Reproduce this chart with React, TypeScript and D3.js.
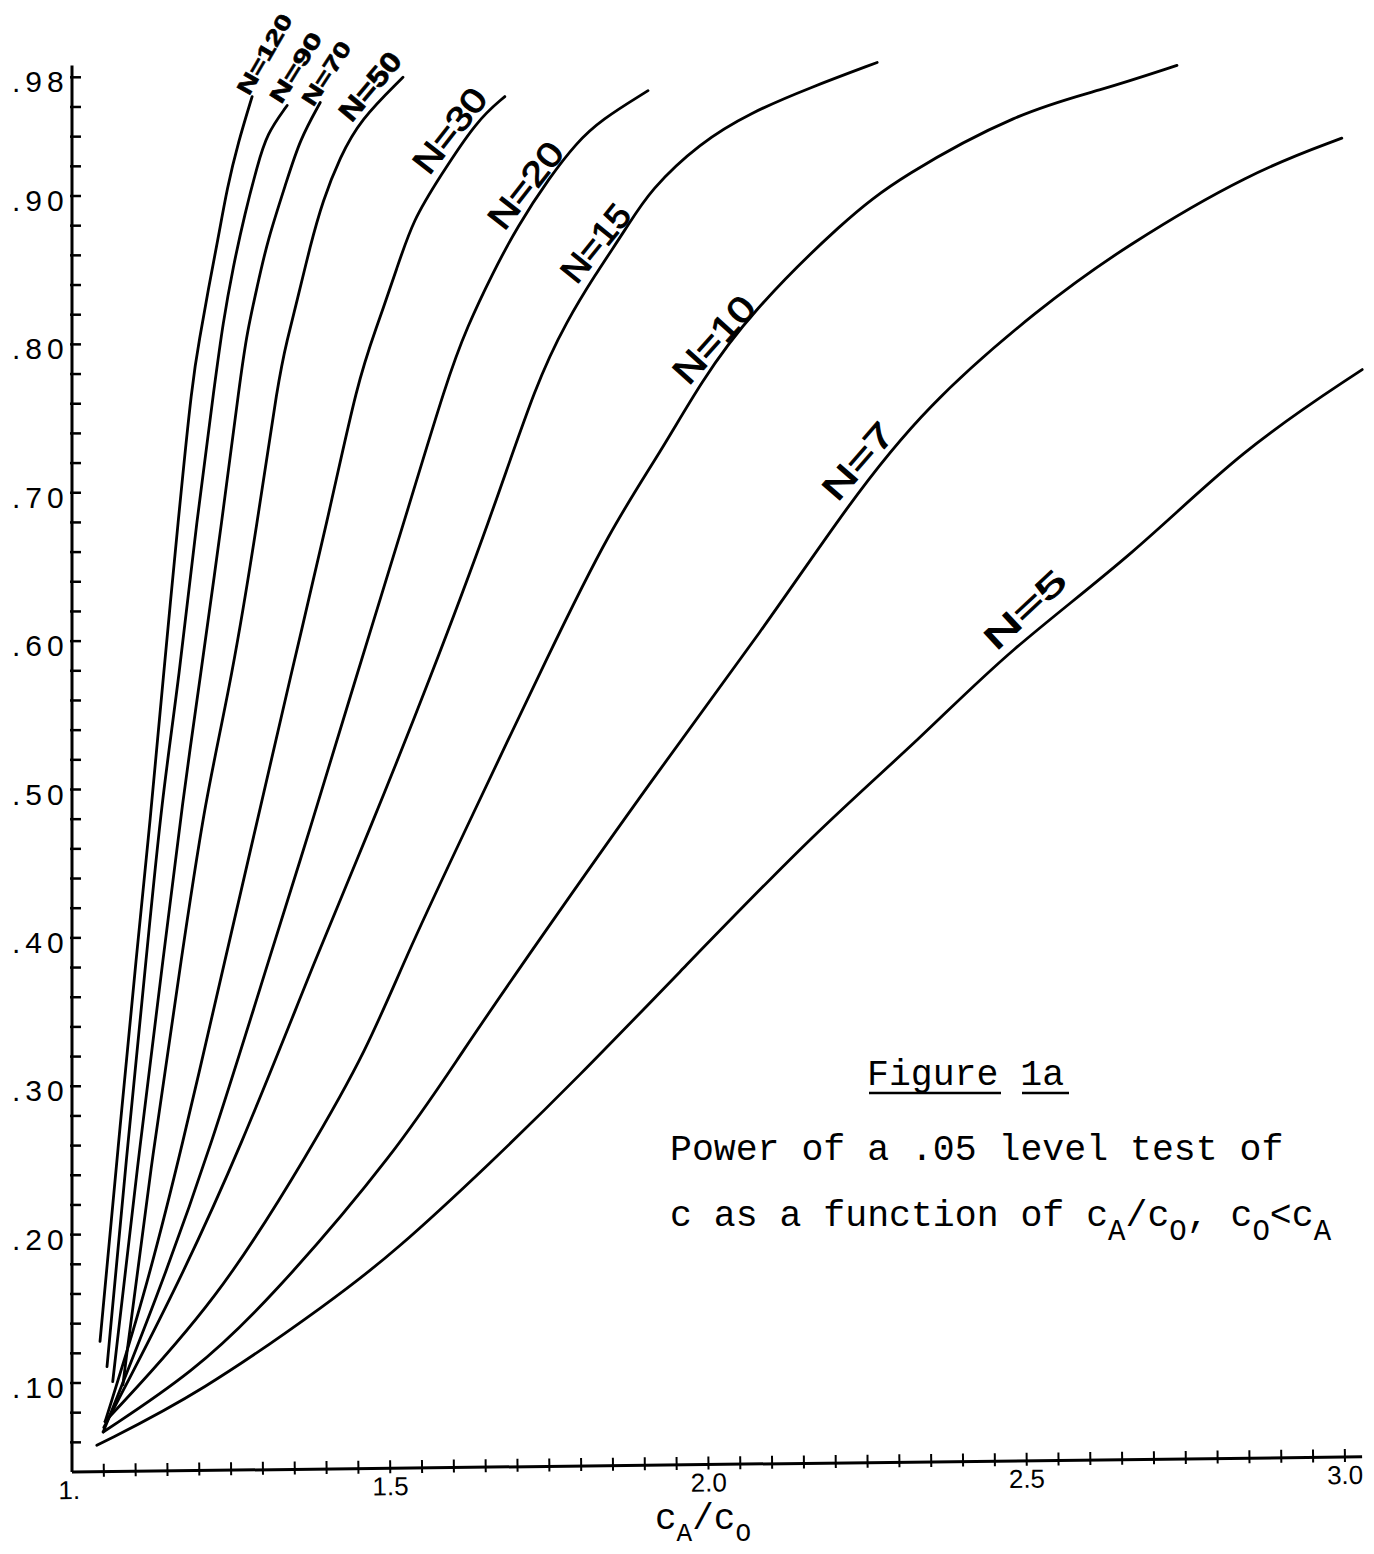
import React from "react";
import * as d3 from "d3";

type Pt = [number, number];

const yTickValues = [0.1, 0.2, 0.3, 0.4, 0.5, 0.6, 0.7, 0.8, 0.9, 0.98];
const yTickLabels = [".10", ".20", ".30", ".40", ".50", ".60", ".70", ".80", ".90", ".98"];
const xTickValues = [1.0, 1.5, 2.0, 2.5, 3.0];
const xTickLabels = ["1.", "1.5", "2.0", "2.5", "3.0"];

// power curves as [cA/c0, power]
const powerN120: Pt[] = [
  [1.044, 0.128], [1.072, 0.257], [1.102, 0.392], [1.123, 0.479], [1.143, 0.574],
  [1.167, 0.682], [1.189, 0.776], [1.201, 0.805], [1.214, 0.837], [1.229, 0.87],
  [1.244, 0.906], [1.261, 0.936], [1.283, 0.967],
];
const powerN90: Pt[] = [
  [1.055, 0.111], [1.085, 0.25], [1.118, 0.392], [1.141, 0.493], [1.168, 0.574],
  [1.196, 0.682], [1.225, 0.776], [1.237, 0.814], [1.253, 0.852], [1.272, 0.889],
  [1.291, 0.92], [1.306, 0.942], [1.338, 0.961],
];
const powerN70: Pt[] = [
  [1.064, 0.101], [1.102, 0.244], [1.145, 0.392], [1.174, 0.493], [1.201, 0.574],
  [1.236, 0.682], [1.264, 0.776], [1.275, 0.808], [1.291, 0.839], [1.307, 0.87],
  [1.338, 0.911], [1.358, 0.938], [1.39, 0.963],
];
const powerN50: Pt[] = [
  [1.08, 0.099], [1.123, 0.244], [1.174, 0.392], [1.209, 0.493], [1.251, 0.574],
  [1.292, 0.682], [1.324, 0.776], [1.338, 0.803], [1.354, 0.83], [1.374, 0.866],
  [1.394, 0.897], [1.421, 0.926], [1.452, 0.951], [1.52, 0.98],
];
const powerN30: Pt[] = [
  [1.052, 0.074], [1.112, 0.156], [1.172, 0.257], [1.244, 0.392], [1.288, 0.473],
  [1.342, 0.574], [1.402, 0.682], [1.449, 0.776], [1.479, 0.812], [1.511, 0.852],
  [1.536, 0.884], [1.578, 0.913], [1.636, 0.951], [1.68, 0.967],
];
const powerN20: Pt[] = [
  [1.049, 0.067], [1.132, 0.156], [1.217, 0.257], [1.314, 0.392], [1.374, 0.473],
  [1.445, 0.574], [1.523, 0.682], [1.589, 0.776], [1.621, 0.812], [1.661, 0.848],
  [1.699, 0.879], [1.751, 0.913], [1.793, 0.936], [1.83, 0.951], [1.905, 0.971],
];
const powerN15: Pt[] = [
  [1.05, 0.07], [1.155, 0.156], [1.264, 0.257], [1.388, 0.392], [1.468, 0.473],
  [1.562, 0.574], [1.657, 0.682], [1.731, 0.776], [1.778, 0.816], [1.819, 0.845],
  [1.872, 0.879], [1.908, 0.904], [1.987, 0.936], [2.065, 0.956], [2.159, 0.973],
  [2.265, 0.99],
];
const powerN10: Pt[] = [
  [1.052, 0.074], [1.23, 0.156], [1.374, 0.257], [1.463, 0.324], [1.529, 0.392],
  [1.625, 0.479], [1.751, 0.593], [1.845, 0.675], [1.927, 0.729], [1.987, 0.774],
  [2.065, 0.821], [2.214, 0.884], [2.301, 0.913], [2.489, 0.957], [2.615, 0.971],
  [2.736, 0.988],
];
const powerN7: Pt[] = [
  [1.049, 0.067], [1.19, 0.107], [1.311, 0.156], [1.512, 0.257], [1.614, 0.324],
  [1.723, 0.392], [1.918, 0.511], [2.086, 0.608], [2.219, 0.692], [2.34, 0.758],
  [2.521, 0.825], [2.654, 0.866], [2.851, 0.916], [2.995, 0.939],
];
const powerN5: Pt[] = [
  [1.039, 0.058], [1.201, 0.093], [1.41, 0.156], [1.506, 0.188], [1.657, 0.248],
  [1.795, 0.306], [1.957, 0.378], [2.169, 0.472], [2.335, 0.535], [2.469, 0.593],
  [2.67, 0.659], [2.837, 0.729], [3.027, 0.783],
];

const curves = [
  { label: "N=120", points: powerN120 },
  { label: "N=90", points: powerN90 },
  { label: "N=70", points: powerN70 },
  { label: "N=50", points: powerN50 },
  { label: "N=30", points: powerN30 },
  { label: "N=20", points: powerN20 },
  { label: "N=15", points: powerN15 },
  { label: "N=10", points: powerN10 },
  { label: "N=7", points: powerN7 },
  { label: "N=5", points: powerN5 },
];

// where the hand lettering sits (data units), its slant and size
const labelPlacement: Record<string, { x: number; y: number; angle: number; size: number; len: number; bold: boolean }> = {
  "N=120": { x: 1.305, y: 0.995, angle: -60, size: 22, len: 89, bold: true },
  "N=90": { x: 1.354, y: 0.986, angle: -58, size: 22, len: 79, bold: true },
  "N=70": { x: 1.402, y: 0.982, angle: -57, size: 22, len: 72, bold: true },
  "N=50": { x: 1.471, y: 0.973, angle: -50, size: 28, len: 81, bold: true },
  "N=30": { x: 1.597, y: 0.943, angle: -52, size: 34, len: 98, bold: false },
  "N=20": { x: 1.716, y: 0.906, angle: -52, size: 34, len: 100, bold: false },
  "N=15": { x: 1.826, y: 0.867, angle: -51, size: 34, len: 90, bold: false },
  "N=10": { x: 2.012, y: 0.802, angle: -48, size: 36, len: 104, bold: false },
  "N=7": { x: 2.238, y: 0.72, angle: -49, size: 34, len: 90, bold: false },
  "N=5": { x: 2.5, y: 0.62, angle: -43, size: 32, len: 100, bold: false },
};

const W = 1374;
const H = 1554;

export default function App() {
  const x = d3.scaleLinear().domain([1, 3]).range([72, 1345]);
  const y = d3.scaleLinear().domain([0.1, 0.9]).range([1383, 196]);

  const line = d3
    .line<Pt>()
    .x((d) => x(d[0]))
    .y((d) => y(d[1]))
    .curve(d3.curveBasis);

  const yMinor = d3.range(3, 50).map((i) => +(i * 0.02).toFixed(2));
  const xMinor = d3.range(21, 61).map((i) => +(i * 0.05).toFixed(2));

  const axisY0 = y(0.04);
  const skew = (Math.atan2(-15, x(3) - x(1)) * 180) / Math.PI;
  const mono = "'Liberation Mono', 'Courier New', monospace";
  const sans = "'Liberation Sans', Arial, sans-serif";

  return (
    <svg
      width={W}
      height={H}
      style={{ position: "absolute", left: 0, top: 0, background: "#fff" }}
    >
      <rect width={W} height={H} fill="#fff" />

      {/* y axis */}
      <g stroke="#000" strokeWidth={3}>
        <line x1={x(1)} x2={x(1)} y1={y(0.988)} y2={axisY0} />
        {yMinor.map((v) => (
          <line key={v} x1={x(1) - 2} x2={x(1) + 9} y1={y(v)} y2={y(v)} strokeWidth={2.5} />
        ))}
      </g>
      <g fontFamily={sans} fontSize={30} fill="#000">
        {yTickValues.map((v, i) => (
          <text key={v} x={12} y={y(v) + 15} letterSpacing={5}>
            {yTickLabels[i]}
          </text>
        ))}
      </g>

      {/* x axis (slightly skewed, as in the scan) */}
      <g transform={`rotate(${skew}, ${x(1)}, ${axisY0})`}>
        <line x1={x(1)} x2={x(3.027)} y1={axisY0} y2={axisY0} stroke="#000" strokeWidth={3} />
        {xMinor.map((v) => (
          <line key={v} x1={x(v)} x2={x(v)} y1={axisY0 - 8} y2={axisY0 + 5} stroke="#000" strokeWidth={2} />
        ))}
        {xTickValues.map((v, i) => (
          <text
            key={v}
            x={x(v) + (i === 0 ? -3 : 0)}
            y={axisY0 + 27}
            textAnchor="middle"
            fontFamily={sans}
            fontSize={26}
          >
            {xTickLabels[i]}
          </text>
        ))}
      </g>

      {/* axis title */}
      <text x={655} y={1529} fontFamily={mono} fontSize={36}>
        c<tspan fontSize={26} dy={12}>A</tspan>
        <tspan fontSize={36} dy={-12}>/c</tspan>
        <tspan fontSize={26} dy={12}>O</tspan>
      </text>

      {/* curves */}
      <g fill="none" stroke="#000" strokeWidth={2.8} strokeLinecap="round">
        {curves.map((c) => (
          <path key={c.label} d={line(c.points) ?? ""} />
        ))}
      </g>

      {/* curve labels */}
      <g fontFamily={sans} fill="#000" stroke="#000">
        {curves.map((c) => {
          const p = labelPlacement[c.label];
          return (
            <text
              key={c.label}
              transform={`translate(${x(p.x)},${y(p.y)}) rotate(${p.angle})`}
              textAnchor="middle"
              dominantBaseline="middle"
              fontSize={p.size}
              fontWeight={p.bold ? 700 : 400}
              strokeWidth={p.bold ? 0.6 : 1}
              textLength={p.len}
              lengthAdjust="spacingAndGlyphs"
            >
              {c.label}
            </text>
          );
        })}
      </g>

      {/* caption */}
      <g fontFamily={mono} fontSize={36.5} fill="#000">
        <text x={867} y={1085}>Figure 1a</text>
        <line x1={869} x2={1001} y1={1093} y2={1093} stroke="#000" strokeWidth={2.5} />
        <line x1={1022} x2={1069} y1={1093} y2={1093} stroke="#000" strokeWidth={2.5} />
        <text x={670} y={1160} xmlSpace="preserve">Power of a .05 level test of</text>
        <text x={670} y={1226} xmlSpace="preserve">
          c as a function of c<tspan fontSize={29} dy={14}>A</tspan>
          <tspan dy={-14}>/c</tspan>
          <tspan fontSize={29} dy={14}>O</tspan>
          <tspan dy={-14}>, c</tspan>
          <tspan fontSize={29} dy={14}>O</tspan>
          <tspan dy={-14}>&lt;c</tspan>
          <tspan fontSize={29} dy={14}>A</tspan>
        </text>
      </g>
    </svg>
  );
}
